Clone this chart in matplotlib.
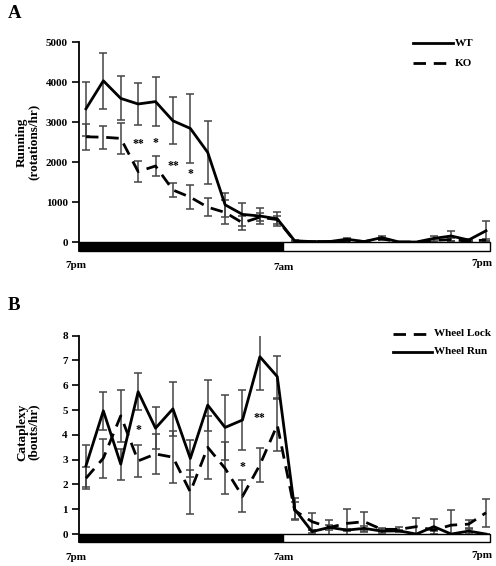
import matplotlib
matplotlib.use("Agg")
import matplotlib.pyplot as plt
from matplotlib.lines import Line2D
from matplotlib.patches import Rectangle
import numpy as np

plt.rcParams['font.family'] = ['Liberation Serif', 'DejaVu Serif']
plt.rcParams['font.weight'] = 'bold'

# ---------------- data ----------------
hours = list(range(24))
time_labels = ["7pm", "7am", "7pm"]

# Panel A: running (rotations/hr)
wt = [3330, 4030, 3590, 3450, 3510, 3030, 2840, 2240, 930, 690, 650, 580,
      30, 10, 10, 70, 10, 110, 0, 0, 90, 150, 50, 280]
wt_err = [680, 700, 550, 530, 620, 590, 860, 790, 300, 280, 210, 180,
          20, 10, 10, 30, 10, 40, 0, 0, 70, 130, 20, 250]
ko = [2630, 2620, 2590, 1760, 1900, 1300, 1120, 870, 740, 480, 620, 560,
      20, 10, 10, 40, 10, 80, 0, 0, 40, 60, 20, 50]
ko_err = [330, 290, 380, 270, 240, 170, 300, 220, 300, 180, 100, 100,
          10, 10, 10, 20, 10, 30, 0, 0, 30, 40, 10, 30]
starsA_x = [3, 4, 5, 6]
starsA_y = [2440, 2470, 1900, 1690]
starsA_t = ["**", "*", "**", "*"]

# Panel B: cataplexy (bouts/hr)
lock = [2.25, 3.06, 4.77, 2.95, 3.23, 3.1, 1.7, 3.5, 2.65, 1.52, 2.79, 4.4,
        0.95, 0.5, 0.27, 0.43, 0.5, 0.19, 0.19, 0.3, 0.16, 0.36, 0.4, 0.86]
lock_err = [0.45, 0.78, 1.04, 0.63, 0.8, 1.05, 0.9, 1.27, 1.05, 0.65, 0.7, 1.05,
            0.35, 0.33, 0.1, 0.6, 0.4, 0.07, 0.08, 0.35, 0.05, 0.6, 0.15, 0.56]
run = [2.75, 4.97, 2.82, 5.74, 4.27, 5.05, 3.05, 5.2, 4.3, 4.6, 7.15, 6.35,
       1.0, 0.1, 0.27, 0.16, 0.23, 0.12, 0.13, 0.0, 0.3, 0.0, 0.12, 0.0]
run_err = [0.85, 0.77, 0.63, 0.74, 0.84, 1.1, 0.75, 1.03, 1.3, 1.2, 1.35, 0.85,
           0.45, 0.05, 0.3, 0.05, 0.1, 0.07, 0.05, 0.0, 0.3, 0.0, 0.1, 0.0]
starsB_x = [3, 9, 10]
starsB_y = [4.2, 2.72, 4.67]
starsB_t = ["*", "*", "**"]

W, H = 496, 566
fig = plt.figure(figsize=(W / 100, H / 100), dpi=100)

def fx(px):
    return px / W

def fy(py):
    return 1 - py / H

XLIM = (-0.40, 23.23)
DARK_END = 11.33
ERRC = '#444444'
DASH = (0, (4.5, 2.8))

def setup(ax, ylim, yticks):
    ax.set_xlim(*XLIM)
    ax.set_ylim(*ylim)
    for s in ['top', 'right', 'bottom']:
        ax.spines[s].set_visible(False)
    ax.spines['left'].set_linewidth(1.3)
    ax.set_xticks([])
    ax.set_yticks(yticks)
    ax.tick_params(axis='y', direction='out', length=5, width=1.2, pad=3,
                   labelsize=8)
    for lab in ax.get_yticklabels():
        lab.set_fontweight('bold')
    # light/dark bar
    ax.add_patch(Rectangle((XLIM[0], ylim[0]), DARK_END - XLIM[0], -ylim[0],
                           facecolor='black', edgecolor='black', lw=1,
                           clip_on=False, zorder=5))
    ax.add_patch(Rectangle((DARK_END, ylim[0]), XLIM[1] - DARK_END, -ylim[0],
                           facecolor='white', edgecolor='black', lw=1,
                           clip_on=False, zorder=5))

def series(ax, y, e, ls):
    ax.errorbar(hours, y, yerr=e, fmt='none', ecolor=ERRC, elinewidth=1.1,
                capsize=3.2, capthick=1.1, zorder=2)
    ax.plot(hours, y, color='black', lw=2.0, linestyle=ls, zorder=3)

# ---------------- Panel A ----------------
axA = fig.add_axes([fx(79), fy(251), fx(490 - 79), (251 - 42) / H])
setup(axA, (-225, 5000), [0, 1000, 2000, 3000, 4000, 5000])
series(axA, wt, wt_err, '-')
series(axA, ko, ko_err, DASH)
for x, y, t in zip(starsA_x, starsA_y, starsA_t):
    axA.text(x, y, t, ha='center', va='center', fontsize=8.5, fontweight='bold')

# ---------------- Panel B ----------------
axB = fig.add_axes([fx(79), fy(542), fx(490 - 79), (542 - 335.7) / H])
setup(axB, (-0.32, 8), list(range(0, 9)))
series(axB, lock, lock_err, DASH)
series(axB, run, run_err, '-')
for x, y, t in zip(starsB_x, starsB_y, starsB_t):
    axB.text(x, y, t, ha='center', va='center', fontsize=8.5, fontweight='bold')

# ---------------- texts ----------------
fig.text(fx(8), fy(14), "A", fontsize=13.5, fontweight='bold', va='center')
fig.text(fx(8), fy(305), "B", fontsize=13.5, fontweight='bold', va='center')

fig.text(fx(28), fy(142), "Running\n(rotations/hr)", rotation=90, ha='center',
         va='center', fontsize=9.5, fontweight='bold', linespacing=1.0)
fig.text(fx(28), fy(432), "Cataplexy\n(bouts/hr)", rotation=90, ha='center',
         va='center', fontsize=9.5, fontweight='bold', linespacing=1.0)

for (px, py), t in zip([(76, 266), (283, 268), (482, 263)], time_labels):
    fig.text(fx(px), fy(py), t, ha='center', va='center', fontsize=8,
             fontweight='bold')
for (px, py), t in zip([(76, 558), (283, 558), (482, 556)], time_labels):
    fig.text(fx(px), fy(py), t, ha='center', va='center', fontsize=8,
             fontweight='bold')

# legends
def leg(x0, x1, y, ls, label):
    fig.add_artist(Line2D([fx(x0), fx(x1)], [fy(y), fy(y)], color='black',
                          lw=2.0, linestyle=ls, transform=fig.transFigure))
    fig.text(fx(x1 + 2), fy(y), label, ha='left', va='center', fontsize=8,
             fontweight='bold')

leg(413, 453, 43, '-', "WT")
leg(413, 453, 63, DASH, "KO")
leg(393, 432, 334, DASH, "Wheel Lock")
leg(393, 432, 352, '-', "Wheel Run")

fig.savefig("out.png", dpi=100)
